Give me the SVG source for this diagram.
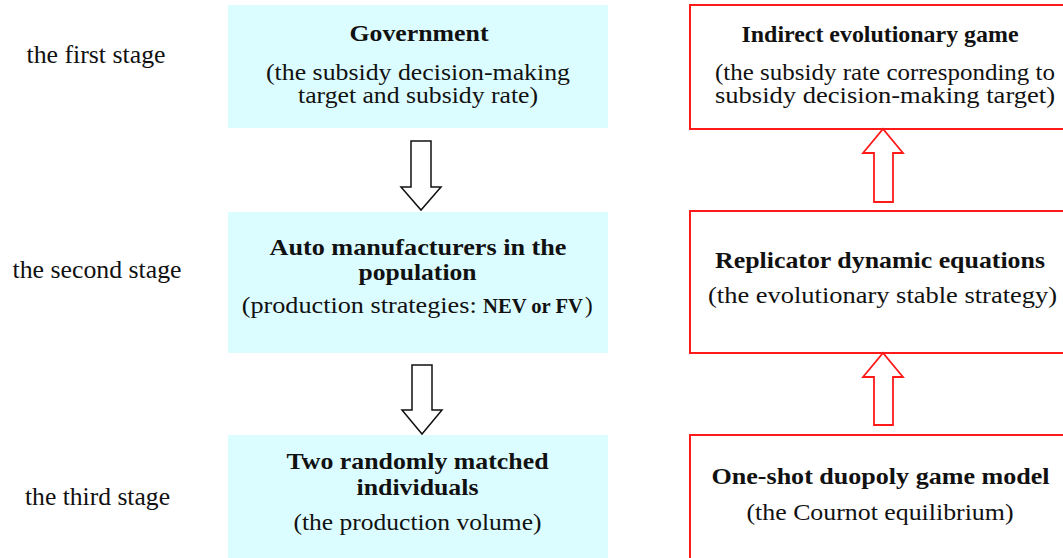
<svg xmlns="http://www.w3.org/2000/svg" width="1063" height="558" viewBox="0 0 1063 558" font-family="'Liberation Serif', 'Times New Roman', serif">
<style>
text{font-family:"Liberation Serif","Times New Roman",serif;fill:#111;}
.t{font-size:24px;font-weight:bold;text-anchor:middle;}
.s{font-size:23px;text-anchor:middle;}
.st{font-size:25px;text-anchor:middle;}
.lb{fill:#dcfdff;stroke:none;}
.rb{fill:#fff;stroke:#ff1a1a;stroke-width:2;}
.da{fill:#fff;stroke:#111;stroke-width:1.5;stroke-linejoin:miter;}
.ua{fill:#fff;stroke:#ff1a1a;stroke-width:1.8;stroke-linejoin:miter;}
</style>
<rect width="1063" height="558" fill="#fff"/>
<g id="stages">
<text class="st" x="96" y="63" textLength="139" lengthAdjust="spacingAndGlyphs">the first stage</text>
<text class="st" x="97" y="278" textLength="169" lengthAdjust="spacingAndGlyphs">the second stage</text>
<text class="st" x="97.5" y="505" textLength="145" lengthAdjust="spacingAndGlyphs">the third stage</text>
</g>
<g id="government">
<rect class="lb" x="228" y="5" width="380" height="123"/>
<text class="t" x="419" y="41" textLength="139" lengthAdjust="spacingAndGlyphs">Government</text>
<text class="s" x="418" y="80" textLength="304" lengthAdjust="spacingAndGlyphs">(the subsidy decision-making</text>
<text class="s" x="418" y="103" textLength="240" lengthAdjust="spacingAndGlyphs">target and subsidy rate)</text>
</g>
<g id="manufacturers">
<rect class="lb" x="228" y="212" width="380" height="141"/>
<text class="t" x="418" y="255" textLength="297" lengthAdjust="spacingAndGlyphs">Auto manufacturers in the</text>
<text class="t" x="417.5" y="280" textLength="118" lengthAdjust="spacingAndGlyphs">population</text>
<text style="font-size:23px" x="241.7" y="313" textLength="235" lengthAdjust="spacingAndGlyphs">(production strategies:</text>
<text style="font-size:20px;font-weight:bold" x="483" y="313" textLength="100" lengthAdjust="spacingAndGlyphs">NEV or FV</text>
<text style="font-size:23px" x="585" y="313">)</text>
</g>
<g id="individuals">
<rect class="lb" x="228" y="435" width="380" height="123"/>
<text class="t" x="417.5" y="469" textLength="262" lengthAdjust="spacingAndGlyphs">Two randomly matched</text>
<text class="t" x="417.5" y="495" textLength="122" lengthAdjust="spacingAndGlyphs">individuals</text>
<text class="s" x="417.5" y="530" textLength="248" lengthAdjust="spacingAndGlyphs">(the production volume)</text>
</g>
<g id="indirect">
<rect class="rb" x="690" y="5" width="400" height="124"/>
<text class="t" x="880" y="42" textLength="277" lengthAdjust="spacingAndGlyphs">Indirect evolutionary game</text>
<text class="s" x="885" y="80" textLength="340" lengthAdjust="spacingAndGlyphs">(the subsidy rate corresponding to</text>
<text class="s" x="885" y="103" textLength="340" lengthAdjust="spacingAndGlyphs">subsidy decision-making target)</text>
</g>
<g id="replicator">
<rect class="rb" x="690" y="211" width="400" height="142"/>
<text class="t" x="880" y="268" textLength="330" lengthAdjust="spacingAndGlyphs">Replicator dynamic equations</text>
<text class="s" x="882.5" y="303" textLength="349" lengthAdjust="spacingAndGlyphs">(the evolutionary stable strategy)</text>
</g>
<g id="oneshot">
<rect class="rb" x="690" y="435" width="400" height="130"/>
<text class="t" x="880.5" y="484" textLength="338" lengthAdjust="spacingAndGlyphs">One-shot duopoly game model</text>
<text class="s" x="880" y="520" textLength="267" lengthAdjust="spacingAndGlyphs">(the Cournot equilibrium)</text>
</g>
<g id="connectors">
<polygon class="da" points="411,141 431,141 431,187 441,187 421,210 401,187 411,187"/>
<polygon class="da" points="412,365 432,365 432,410 442,410 422,434 402,410 412,410"/>
<polygon class="ua" points="874,202 893,202 893,153 903,153 883,129 863,153 874,153"/>
<polygon class="ua" points="874,425 893,425 893,377 903,377 883,353 863,377 874,377"/>
</g>
</svg>
